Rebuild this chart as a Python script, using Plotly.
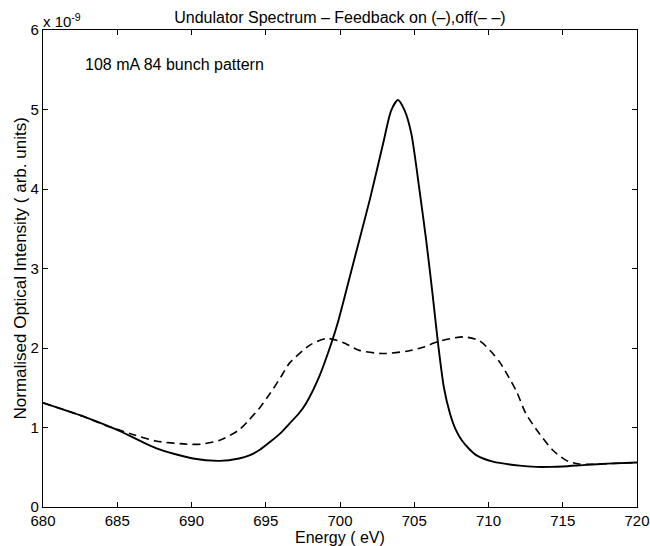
import plotly.graph_objects as go

# Energies (eV) and intensities (units of 1e-9)
energy_on = [680.0, 682.7, 685.0, 687.6, 690.1, 691.9, 693.2, 693.9, 694.6, 695.3, 696.0,
             696.6, 697.2, 697.7, 698.6, 699.4, 699.9, 700.9, 702.0, 702.9, 703.45, 703.9,
             704.35, 704.8, 705.35, 705.8, 706.25, 706.6, 707.0, 707.4, 707.8, 708.2,
             708.7, 709.2, 710.3, 712.1, 713.2, 714.2, 715.0, 716.6, 718.0, 720.0]
intensity_on = [1.31, 1.14, 0.97, 0.74, 0.61, 0.58, 0.61, 0.65, 0.72, 0.82, 0.93,
                1.05, 1.17, 1.30, 1.64, 2.05, 2.35, 3.07, 3.86, 4.57, 4.99, 5.12,
                4.99, 4.70, 3.99, 3.36, 2.65, 2.06, 1.50, 1.18, 0.97, 0.84,
                0.73, 0.65, 0.57, 0.52, 0.505, 0.505, 0.51, 0.53, 0.545, 0.56]

energy_off = [680.0, 682.7, 684.3, 686.1, 687.6, 689.7, 690.6, 691.9, 693.2, 693.9, 694.6,
              695.3, 696.0, 696.6, 698.0, 699.1, 700.2, 701.3, 702.9, 704.5, 705.6, 706.6,
              708.3, 709.4, 710.2, 710.8, 711.4, 711.9, 712.5, 713.4, 714.3, 715.2,
              716.1, 718.0, 720.0]
intensity_off = [1.31, 1.14, 1.02, 0.91, 0.83, 0.79, 0.79, 0.84, 0.97, 1.10, 1.25,
                 1.43, 1.63, 1.81, 2.04, 2.12, 2.07, 1.97, 1.93, 1.96, 2.01, 2.08,
                 2.14, 2.09, 1.95, 1.81, 1.62, 1.45, 1.18, 0.93, 0.72, 0.59,
                 0.54, 0.545, 0.56]

x_ticks = [680, 685, 690, 695, 700, 705, 710, 715, 720]
y_ticks = [0, 1, 2, 3, 4, 5, 6]

FONT = "Liberation Sans, Arial, sans-serif"

fig = go.Figure()
fig.add_trace(go.Scatter(x=energy_on, y=intensity_on, mode="lines",
                         line=dict(color="black", width=1.9, shape="spline", smoothing=0.7),
                         showlegend=False, hoverinfo="skip"))
fig.add_trace(go.Scatter(x=energy_off, y=intensity_off, mode="lines",
                         line=dict(color="black", width=1.6, dash="8px,5px", shape="spline", smoothing=0.7),
                         showlegend=False, hoverinfo="skip"))

axis_common = dict(showgrid=False, zeroline=False, showline=True, linecolor="black",
                   linewidth=1.2, mirror="ticks", ticks="inside", ticklen=5,
                   tickcolor="black", automargin=False, ticklabeloverflow="allow",
                   tickfont=dict(family=FONT, size=15, color="black"))

fig.update_xaxes(range=[680, 720], tickvals=x_ticks, ticktext=[str(t) for t in x_ticks],
                 **axis_common)
fig.update_yaxes(range=[0, 6], tickvals=y_ticks, ticktext=[str(t) for t in y_ticks],
                 **axis_common)

fig.update_layout(
    width=650, height=546,
    margin=dict(l=43, r=13, t=30, b=39, autoexpand=False),
    paper_bgcolor="white", plot_bgcolor="white",
    title=dict(text="Undulator Spectrum – Feedback on (–),off(– –)",
               font=dict(family=FONT, size=16, color="black"),
               x=0.523, xanchor="center", y=0.969, yanchor="middle"),
    annotations=[
        dict(text="x 10<sup>-9</sup>", xref="paper", yref="paper", x=0.0, y=1.0,
             xanchor="left", yanchor="bottom", showarrow=False, xshift=-2, yshift=-2,
             font=dict(family=FONT, size=15, color="black")),
        dict(text="108 mA 84 bunch pattern", xref="x", yref="y", x=682.7, y=5.56,
             xanchor="left", yanchor="middle", showarrow=False,
             font=dict(family=FONT, size=16, color="black")),
        dict(text="Energy ( eV)", xref="paper", yref="paper", x=0.5, y=-0.063,
             xanchor="center", yanchor="middle", showarrow=False,
             font=dict(family=FONT, size=16, color="black")),
        dict(text="Normalised Optical Intensity ( arb. units)", xref="paper", yref="paper",
             x=-0.0387, y=0.5, xanchor="center", yanchor="middle", textangle=-90,
             showarrow=False, font=dict(family=FONT, size=17, color="black")),
    ],
)

fig.write_html("out.html", config={"displayModeBar": False},
               post_script="document.body.style.margin='0px';")
